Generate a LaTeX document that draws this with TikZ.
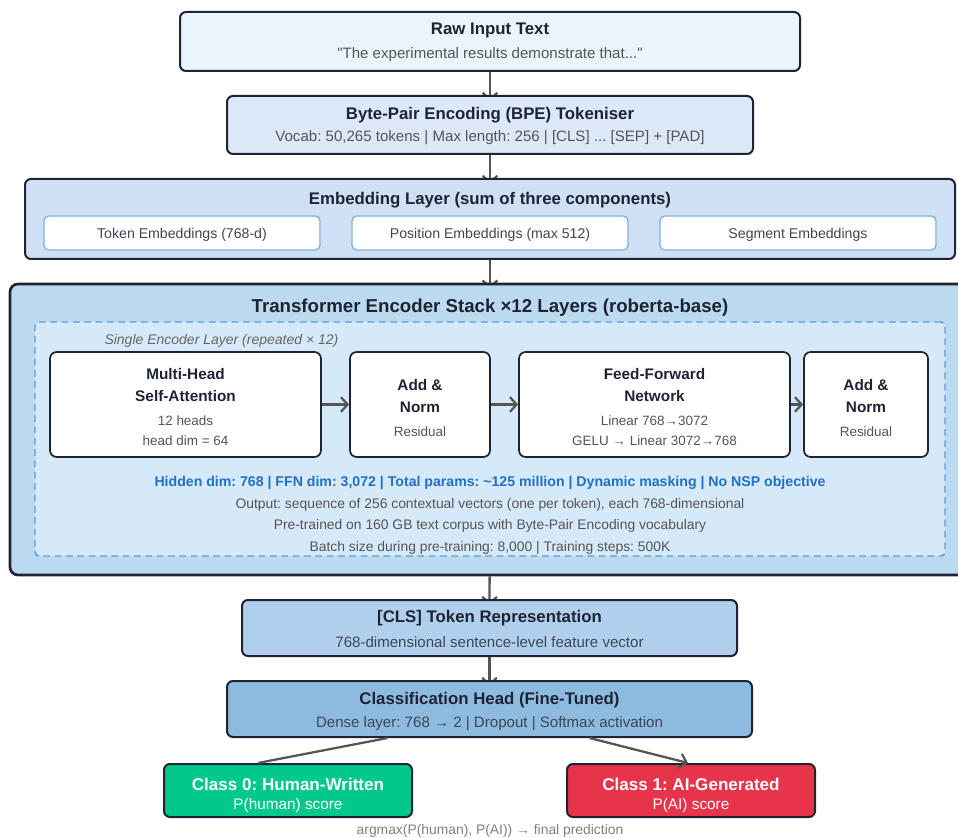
\documentclass[tikz,border=0pt]{standalone}
\usepackage{fontspec}
\setmainfont{Liberation Sans}
\usetikzlibrary{fit,calc,arrows.meta,backgrounds}
\frenchspacing

\definecolor{edgeDark}{RGB}{30,36,51}
\definecolor{textGrey}{RGB}{85,85,85}
\definecolor{arrowGrey}{RGB}{85,85,85}
\definecolor{rawFill}{RGB}{234,244,251}
\definecolor{bpeFill}{RGB}{220,232,247}
\definecolor{embFill}{RGB}{207,224,244}
\definecolor{chipLine}{RGB}{125,178,224}
\definecolor{stackFill}{RGB}{187,217,239}
\definecolor{layerFill}{RGB}{214,233,248}
\definecolor{layerDash}{RGB}{91,155,213}
\definecolor{clsFill}{RGB}{175,207,237}
\definecolor{headFill}{RGB}{141,187,224}
\definecolor{humanFill}{RGB}{0,201,138}
\definecolor{aiFill}{RGB}{232,52,74}
\definecolor{infoBlue}{RGB}{33,112,200}

\tikzset{every picture/.style={line width=0.75pt}}
\tikzset{
  block/.style={draw=edgeDark, line width=1.5pt, rounded corners=4.5pt, inner sep=0pt},
  chip/.style={draw=chipLine, fill=white, line width=1pt, rounded corners=3.5pt, inner sep=0pt},
  flow/.style={draw=arrowGrey, line width=1.7pt, -{Straight Barb[length=5pt,width=11pt]}},
  lbl/.style={inner sep=0.75pt, yshift=-1.6pt},
  title/.style={lbl, text=edgeDark, font=\bfseries\fontsize{12.6}{14}\selectfont},
  subtext/.style={lbl, text=textGrey, font=\fontsize{11.3}{13}\selectfont},
  chiptext/.style={lbl, text=edgeDark!85, font=\fontsize{10.6}{12}\selectfont},
  celltitle/.style={lbl, align=center, text=edgeDark, font=\bfseries\fontsize{11.5}{16.5}\selectfont},
  cellsub/.style={lbl, align=center, text=textGrey, font=\fontsize{10.1}{15}\selectfont},
  note/.style={lbl, text=textGrey, font=\fontsize{10.4}{12}\selectfont},
  classtitle/.style={lbl, text=white, font=\bfseries\fontsize{12.8}{14}\selectfont},
  classsub/.style={lbl, text=white, font=\fontsize{11.5}{13}\selectfont}
}

\begin{document}
\begin{tikzpicture}[x=0.75pt,y=0.75pt,yscale=-1,xscale=1]
	\useasboundingbox (0,0) rectangle (958,838);

	%Raw input
	\node [block, fill=rawFill, fit={(180,12) (800,71)}] (raw) {};
	\node [title] (rawTitle) at (490,28) {Raw Input Text};
	\node [subtext] (rawSub) at (490,52) {\textquotedbl The experimental results demonstrate that...\textquotedbl};

	%Tokeniser
	\node [block, fill=bpeFill, fit={(227,96) (753,154)}] (bpe) {};
	\node [title] (bpeTitle) at (490,113) {Byte-Pair Encoding (BPE) Tokeniser};
	\node [subtext] (bpeSub) at (490,136) {Vocab: 50,265 tokens | Max length: 256 | [CLS] ... [SEP] + [PAD]};

	%Embedding layer
	\node [block, fill=embFill, fit={(25,179) (955,259)}] (emb) {};
	\node [title] (embTitle) at (490,198) {Embedding Layer (sum of three components)};
	\node [chip, fit={(44,216) (320,250)}] (tokEmb) {};
	\node [chip, fit={(352,216) (628,250)}] (posEmb) {};
	\node [chip, fit={(660,216) (936,250)}] (segEmb) {};
	\node [chiptext] (tokText) at (tokEmb) {Token Embeddings (768-d)};
	\node [chiptext] (posText) at (posEmb) {Position Embeddings (max 512)};
	\node [chiptext] (segText) at (segEmb) {Segment Embeddings};

	%Encoder stack
	\node [block, fill=stackFill, line width=2pt, rounded corners=6pt, fit={(10,284) (970,575)}] (stack) {};
	\node [title, font=\bfseries\fontsize{14}{16}\selectfont] (stackTitle) at (490,306) {Transformer Encoder Stack ×12 Layers (roberta-base)};
	\node [draw=layerDash, fill=layerFill, line width=1.1pt, dash pattern={on 5pt off 3.5pt}, rounded corners=3pt, inner sep=0pt, fit={(35,322) (945,556)}] (layer) {};
	\node [lbl, anchor=west, text=black!60, font=\itshape\fontsize{10.5}{12}\selectfont] (layerLabel) at (103,339) {Single Encoder Layer (repeated × 12)};

	\node [block, fill=white, line width=1.3pt, rounded corners=5pt, fit={(50,352) (321,457)}] (mhsa) {};
	\node [block, fill=white, line width=1.3pt, rounded corners=5pt, fit={(350,352) (490,457)}] (addA) {};
	\node [block, fill=white, line width=1.3pt, rounded corners=5pt, fit={(519,352) (790,457)}] (ffn) {};
	\node [block, fill=white, line width=1.3pt, rounded corners=5pt, fit={(804,352) (928,457)}] (addB) {};

	\node [celltitle] (mhsaTitle) at (185.5,383) {Multi-Head\\Self-Attention};
	\node [cellsub] (mhsaSub) at (185.5,429) {12 heads\\head dim = 64};
	\node [celltitle] (addATitle) at (420,394) {Add \&\\Norm};
	\node [cellsub] (addASub) at (420,430) {Residual};
	\node [celltitle] (ffnTitle) at (654.5,383) {Feed-Forward\\Network};
	\node [cellsub] (ffnSub) at (654.5,429) {Linear 768→3072\\GELU → Linear 3072→768};
	\node [celltitle] (addBTitle) at (866,394) {Add \&\\Norm};
	\node [cellsub] (addBSub) at (866,430) {Residual};

	\draw [flow] (mhsa) -- (addA);
	\draw [flow] (addA) -- (ffn);
	\draw [flow] (ffn) -- (addB);

	\node [note, text=infoBlue, font=\bfseries\fontsize{10.6}{12}\selectfont] (infoLine) at (490,481) {Hidden dim: 768 | FFN dim: 3,072 | Total params: \textasciitilde125 million | Dynamic masking | No NSP objective};
	\node [note] (outLine) at (490,503) {Output: sequence of 256 contextual vectors (one per token), each 768-dimensional};
	\node [note] (preLine) at (490,524) {Pre-trained on 160 GB text corpus with Byte-Pair Encoding vocabulary};
	\node [note] (batchLine) at (490,546) {Batch size during pre-training: 8,000 | Training steps: 500K};

	%CLS representation
	\node [block, fill=clsFill, fit={(242,600) (737,656)}] (cls) {};
	\node [title] (clsTitle) at (489.5,616) {[CLS] Token Representation};
	\node [subtext, text=edgeDark!85] (clsSub) at (489.5,640) {768-dimensional sentence-level feature vector};

	%Classification head
	\node [block, fill=headFill, fit={(227,681) (752,737)}] (head) {};
	\node [title] (headTitle) at (489.5,698) {Classification Head (Fine-Tuned)};
	\node [subtext, text=edgeDark!85] (headSub) at (489.5,722) {Dense layer: 768 → 2 | Dropout | Softmax activation};

	%Classes
	\node [block, fill=humanFill, fit={(164,764) (412,817)}] (human) {};
	\node [classtitle] (humanTitle) at (288,782) {Class 0: Human-Written};
	\node [classsub] (humanSub) at (288,803) {P(human) score};
	\node [block, fill=aiFill, fit={(567,764) (815,817)}] (ai) {};
	\node [classtitle] (aiTitle) at (691,782) {Class 1: AI-Generated};
	\node [classsub] (aiSub) at (691,803) {P(AI) score};

	\node [lbl, text=black!50, font=\fontsize{10.4}{12}\selectfont] (footer) at (490,829) {argmax(P(human), P(AI)) → final prediction};

	%connectors
	\begin{scope}[on background layer]
		\draw [flow, shorten >=-4.5pt] (raw) -- (bpe);
		\draw [flow, shorten >=-4.5pt] (bpe) -- (emb);
		\draw [flow, shorten >=-4.5pt] (emb) -- (stack);
		\draw [flow, shorten >=-4.5pt] (stack) -- (cls);
		\draw [flow, shorten >=-4.5pt] (cls) -- (head);
	\end{scope}
	\draw [draw=arrowGrey, line width=1.7pt] ($(head.south)+(-102,0)$) -- ($(human.north)+(-30,0)$);
	\draw [flow] ($(head.south)+(100,0)$) -- ($(ai.north)+(-3,0)$);

\end{tikzpicture}
\end{document}
